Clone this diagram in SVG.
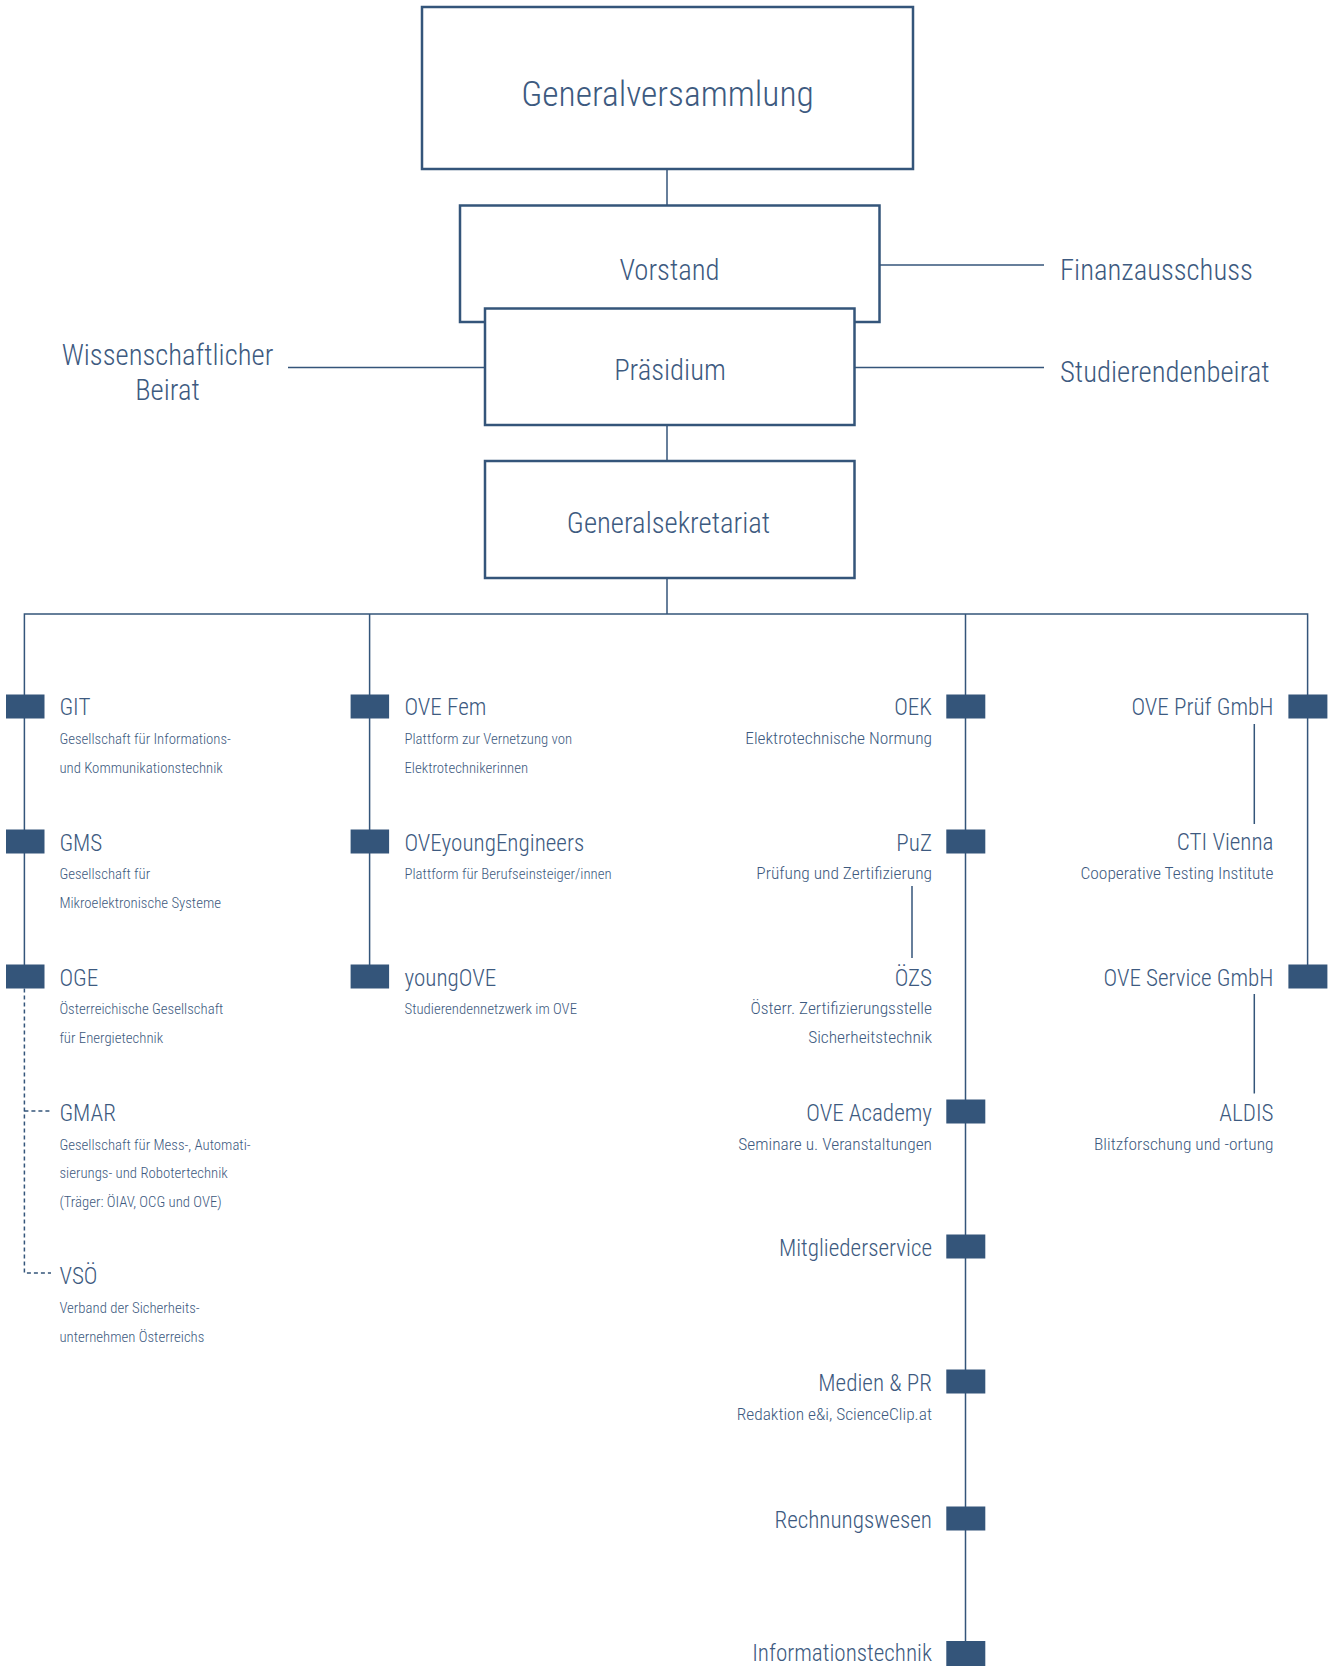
<svg xmlns="http://www.w3.org/2000/svg" width="1333" height="1666" viewBox="0 0 1333 1666">
<style>
text{font-family:"Roboto Condensed","Roboto","Liberation Sans Narrow",sans-serif;font-weight:300;font-stretch:condensed;fill:#3d5a80}
.box{fill:#fff;stroke:#34557a;stroke-width:2.5}
.ln{stroke:#34557a;stroke-width:1.5;fill:none}
.dash{stroke:#34557a;stroke-width:1.5;fill:none;stroke-dasharray:4 3}
.mk{fill:#34557a}
.t1{font-size:35.5px}
.t2{font-size:28.7px}
.lab{font-size:23.1px}
.sl{font-size:14.8px}
.sr{font-size:17.4px}
.c{text-anchor:middle}
.r{text-anchor:end}
</style>
<rect width="1333" height="1666" fill="#fff"/>
<g id="connectors">
<line class="ln" x1="667" y1="169" x2="667" y2="206"/>
<line class="ln" x1="667" y1="425" x2="667" y2="461"/>
<line class="ln" x1="667" y1="578" x2="667" y2="614"/>
<line class="ln" x1="879.5" y1="265" x2="1044" y2="265"/>
<line class="ln" x1="854.5" y1="367.5" x2="1044" y2="367.5"/>
<line class="ln" x1="288" y1="367.5" x2="485" y2="367.5"/>
<polyline class="ln" points="24.4,977 24.4,614 1307.6,614 1307.6,977"/>
<line class="ln" x1="369.6" y1="614" x2="369.6" y2="977"/>
<line class="ln" x1="965.5" y1="614" x2="965.5" y2="1666"/>
<line class="ln" x1="1254.3" y1="724" x2="1254.3" y2="824"/>
<line class="ln" x1="912" y1="886" x2="912" y2="958"/>
<line class="ln" x1="1254.3" y1="994" x2="1254.3" y2="1093.5"/>
<polyline class="dash" points="24.4,988.5 24.4,1273 51,1273"/>
<line class="dash" x1="24.4" y1="1111" x2="51" y2="1111"/>
</g>
<g id="generalversammlung"><rect class="box" x="422" y="7" width="491" height="162"/><text class="t1 c" x="667.5" y="106">Generalversammlung</text></g>
<g id="vorstand"><rect class="box" x="460" y="205.5" width="419.5" height="116.5"/><text class="t2 c" x="669.5" y="279.5">Vorstand</text></g>
<g id="praesidium"><rect class="box" x="485" y="308.5" width="369.5" height="116.5"/><text class="t2 c" x="670" y="380">Präsidium</text></g>
<g id="generalsekretariat"><rect class="box" x="485" y="461" width="369.5" height="117"/><text class="t2 c" x="668.5" y="532.5">Generalsekretariat</text></g>
<g id="finanzausschuss"><text class="t2" x="1060" y="280">Finanzausschuss</text></g>
<g id="studierendenbeirat"><text class="t2" x="1060" y="382">Studierendenbeirat</text></g>
<g id="wissenschaftlicher-beirat"><text class="t2 c" x="167.5" y="364.5">Wissenschaftlicher</text><text class="t2 c" x="167.5" y="400">Beirat</text></g>

<g id="git"><rect class="mk" x="6" y="694.5" width="38.5" height="24"/><text class="lab" x="59.4" y="715">GIT</text><text class="sl" x="59.4" y="744">Gesellschaft für Informations-</text><text class="sl" x="59.4" y="773">und Kommunikationstechnik</text></g>
<g id="gms"><rect class="mk" x="6" y="829.5" width="38.5" height="24"/><text class="lab" x="59.4" y="850.5">GMS</text><text class="sl" x="59.4" y="879">Gesellschaft für</text><text class="sl" x="59.4" y="908">Mikroelektronische Systeme</text></g>
<g id="oge"><rect class="mk" x="6" y="964.5" width="38.5" height="24"/><text class="lab" x="59.4" y="985.5">OGE</text><text class="sl" x="59.4" y="1013.5">Österreichische Gesellschaft</text><text class="sl" x="59.4" y="1042.5">für Energietechnik</text></g>
<g id="gmar"><text class="lab" x="59.4" y="1120.5">GMAR</text><text class="sl" x="59.4" y="1149.5">Gesellschaft für Mess-, Automati-</text><text class="sl" x="59.4" y="1178">sierungs- und Robotertechnik</text><text class="sl" x="59.4" y="1206.5">(Träger: ÖIAV, OCG und OVE)</text></g>
<g id="vsoe"><text class="lab" x="59.4" y="1284">VSÖ</text><text class="sl" x="59.4" y="1313">Verband der Sicherheits-</text><text class="sl" x="59.4" y="1341.5">unternehmen Österreichs</text></g>

<g id="ove-fem"><rect class="mk" x="350.6" y="694.5" width="38.5" height="24"/><text class="lab" x="404.5" y="715">OVE Fem</text><text class="sl" x="404.5" y="744">Plattform zur Vernetzung von</text><text class="sl" x="404.5" y="773">Elektrotechnikerinnen</text></g>
<g id="oveyoungengineers"><rect class="mk" x="350.6" y="829.5" width="38.5" height="24"/><text class="lab" x="404.5" y="850.5">OVEyoungEngineers</text><text class="sl" x="404.5" y="879">Plattform für Berufseinsteiger/innen</text></g>
<g id="youngove"><rect class="mk" x="350.6" y="964.5" width="38.5" height="24"/><text class="lab" x="404.5" y="985.5">youngOVE</text><text class="sl" x="404.5" y="1013.5">Studierendennetzwerk im OVE</text></g>

<g id="oek"><rect class="mk" x="946.3" y="694.5" width="39" height="24"/><text class="lab r" x="932" y="715">OEK</text><text class="sr r" x="932" y="744">Elektrotechnische Normung</text></g>
<g id="puz"><rect class="mk" x="946.3" y="829.5" width="39" height="24"/><text class="lab r" x="932" y="850.5">PuZ</text><text class="sr r" x="932" y="879">Prüfung und Zertifizierung</text></g>
<g id="oezs"><text class="lab r" x="932" y="985.5">ÖZS</text><text class="sr r" x="932" y="1013.5">Österr. Zertifizierungsstelle</text><text class="sr r" x="932" y="1042.5">Sicherheitstechnik</text></g>
<g id="ove-academy"><rect class="mk" x="946.3" y="1099.5" width="39" height="24"/><text class="lab r" x="932" y="1121">OVE Academy</text><text class="sr r" x="932" y="1149.5">Seminare u. Veranstaltungen</text></g>
<g id="mitgliederservice"><rect class="mk" x="946.3" y="1234.5" width="39" height="24"/><text class="lab r" x="932" y="1256">Mitgliederservice</text></g>
<g id="medien-pr"><rect class="mk" x="946.3" y="1369.5" width="39" height="24"/><text class="lab r" x="932" y="1391">Medien &amp; PR</text><text class="sr r" x="932" y="1420">Redaktion e&amp;i, ScienceClip.at</text></g>
<g id="rechnungswesen"><rect class="mk" x="946.3" y="1506.5" width="39" height="24"/><text class="lab r" x="932" y="1528">Rechnungswesen</text></g>
<g id="informationstechnik"><rect class="mk" x="946.3" y="1641" width="39" height="25"/><text class="lab r" x="932" y="1661">Informationstechnik</text></g>

<g id="ove-pruef"><rect class="mk" x="1288.4" y="694.5" width="39" height="24"/><text class="lab r" x="1273.5" y="715">OVE Prüf GmbH</text></g>
<g id="cti-vienna"><text class="lab r" x="1273.5" y="850">CTI Vienna</text><text class="sr r" x="1273.5" y="879">Cooperative Testing Institute</text></g>
<g id="ove-service"><rect class="mk" x="1288.4" y="964.5" width="39" height="24"/><text class="lab r" x="1273.5" y="985.5">OVE Service GmbH</text></g>
<g id="aldis"><text class="lab r" x="1273.5" y="1121">ALDIS</text><text class="sr r" x="1273.5" y="1149.5">Blitzforschung und -ortung</text></g>
</svg>
